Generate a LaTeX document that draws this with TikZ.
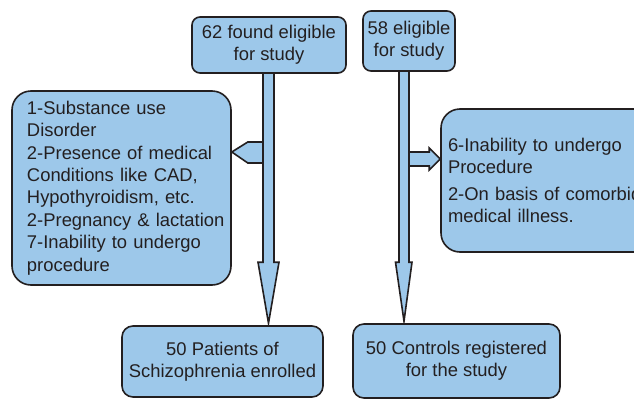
\documentclass[tikz,border=0pt]{standalone}
\usepackage{fontspec}
\setmainfont{Liberation Sans}
\usetikzlibrary{calc,backgrounds}
\definecolor{boxfill}{HTML}{9DC8EA}
\definecolor{edge}{HTML}{231F20}
\begin{document}
\begin{tikzpicture}[x=1pt,y=-1pt,
  box/.style={draw=edge, fill=boxfill, line width=1.6pt, text=edge,
    font=\fontsize{18.4}{22.4}\selectfont, align=center, inner sep=0pt},
  blockarrow/.style={draw=edge, fill=boxfill, line width=1.6pt}]
\useasboundingbox (0,0) rectangle (634,399);
\clip (0,0) rectangle (634,399);
% boxes
\node[box, rounded corners=8pt, minimum width=154, minimum height=56] (topA) at (269,45) {62 found eligible\\for study};
\node[box, rounded corners=8pt, minimum width=92, minimum height=60] (topB) at (409,41) {58 eligible\\for study};
\node[box, rounded corners=19pt, minimum width=219, minimum height=194, text width=189, inner xsep=15pt, align=left] (leftbox) at (121.5,188)
  {1-Substance use\\Disorder\\2-Presence of medical\\Conditions like CAD,\\Hypothyroidism, etc.\\\mbox{2-Pregnancy \& lactation}\\7-Inability to undergo\\procedure};
\node[box, rounded corners=19pt, minimum width=219, minimum height=143, text width=205, inner xsep=7pt, align=left] (rightbox) at (550.5,180.5)
  {6-Inability to undergo\\Procedure\\[4pt]2-On basis of comorbid\\medical illness.};
\node[box, rounded corners=11pt, minimum width=201, minimum height=71] (botA) at (222.5,361.5) {50 Patients of\\Schizophrenia enrolled};
\node[box, rounded corners=11pt, minimum width=207, minimum height=74] (botB) at (456.5,361) {50 Controls registered\\for the study};
% helper coordinates
\coordinate (Ltop) at ($(topA.south)+(-0.5,0)$);
\coordinate (Ltip) at (botA.north -| Ltop);
\coordinate (Rtop) at ($(topB.south)+(-5,0)$);
\coordinate (Rtip) at (botB.north -| Rtop);
\coordinate (ya) at (0,152);
\coordinate (yb) at (0,159);
\coordinate (LaTip) at (leftbox.east |- ya);
\coordinate (RaTip) at (rightbox.west |- yb);
\begin{scope}[on background layer]
% side arrow to left box
\filldraw[blockarrow] (LaTip) -- ++(16,-10) -- ++(16,0) -- ++(0,21) -- ++(-16,0) -- cycle;
% side arrow to right box
\filldraw[blockarrow] (RaTip) -- ++(-11,-11) -- ++(0,4) -- ++(-21,0) -- ++(0,14) -- ++(21,0) -- ++(0,4) -- cycle;
% left stem
\fill[boxfill] ($(Ltop)+(-5.5,0)$) -- ($(Ltip)+(-5.5,-63)$) -- ($(Ltip)+(-10.5,-63)$) -- ($(Ltip)+(0,-2)$) -- ($(Ltip)+(10.5,-63)$) -- ($(Ltip)+(5.5,-63)$) -- ($(Ltop)+(5.5,0)$) -- cycle;
\draw[blockarrow, fill=none] ($(Ltop)+(-5.5,0)$) -- ($(Ltip)+(-5.5,-63)$) -- ($(Ltip)+(-10.5,-63)$) -- ($(Ltip)+(0,-2)$) -- ($(Ltip)+(10.5,-63)$) -- ($(Ltip)+(5.5,-63)$) -- ($(Ltop)+(5.5,0)$);
% right stem
\fill[boxfill] ($(Rtop)+(-5,0)$) -- ($(Rtip)+(-5,-61)$) -- ($(Rtip)+(-8.5,-61)$) -- ($(Rtip)+(0,-2)$) -- ($(Rtip)+(8,-61)$) -- ($(Rtip)+(5,-61)$) -- ($(Rtop)+(5,0)$) -- cycle;
\draw[blockarrow, fill=none] ($(Rtop)+(-5,0)$) -- ($(Rtip)+(-5,-61)$) -- ($(Rtip)+(-8.5,-61)$) -- ($(Rtip)+(0,-2)$) -- ($(Rtip)+(8,-61)$) -- ($(Rtip)+(5,-61)$) -- ($(Rtop)+(5,0)$);
\end{scope}
\end{tikzpicture}
\end{document}
